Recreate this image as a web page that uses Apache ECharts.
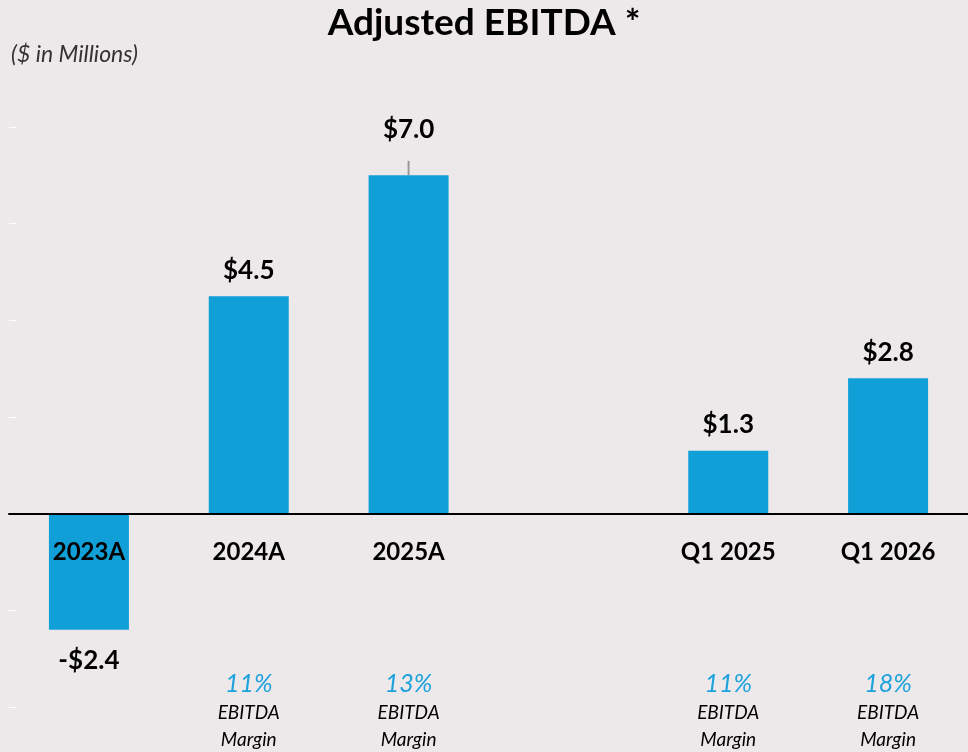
<!DOCTYPE html>
<html>
<head>
<meta charset="utf-8">
<script src="https://cdn.jsdelivr.net/npm/echarts@6/dist/echarts.min.js"></script>
<style>
  html, body { margin: 0; padding: 0; background: #ede9ea; }
  #chart { width: 968px; height: 752px; }
</style>
</head>
<body>
<div id="chart"></div>
<script>
// categories, blank slot separates annual from quarterly
const categories = ['2023A', '2024A', '2025A', '', 'Q1 2025', 'Q1 2026'];
const ebitda = [-2.4, 4.5, 7.0, null, 1.3, 2.8];
const margins = ['', '11%', '13%', '', '11%', '18%'];
// small grey whisker above the 2025A bar
const whiskerTop = [null, null, 7.3, null, null, null];

const chart = echarts.init(document.getElementById('chart'));

const option = {
  backgroundColor: '#ede9ea',
  textStyle: { fontFamily: 'Lato' },
  title: [{
    text: 'Adjusted EBITDA *',
    left: 'center',
    top: 0,
    textStyle: { fontSize: 37, fontWeight: 'bold', color: '#000', fontFamily: 'Lato' }
  }, {
    text: '($ in Millions)',
    left: 6,
    top: 38,
    textStyle: { fontSize: 23, fontStyle: 'italic', fontWeight: 'normal', color: '#333', fontFamily: 'Lato' }
  }],
  grid: { left: 9, right: 0, top: 127, bottom: 45, containLabel: false },
  xAxis: [{
    type: 'category',
    data: categories,
    position: 'bottom',
    offset: -193,
    z: 10,
    axisLine: { onZero: false, lineStyle: { color: '#000', width: 2 } },
    axisTick: { show: false },
    axisLabel: {
      color: '#000', fontSize: 24, fontWeight: 'bold', margin: 26, interval: 0
    }
  }, {
    type: 'category',
    data: margins,
    position: 'bottom',
    axisLine: { show: false },
    axisTick: { show: false },
    axisLabel: {
      interval: 0,
      margin: -38,
      formatter: function (v) {
        return v ? '{p|' + v + '}\n{m|EBITDA}\n{m|Margin}' : '';
      },
      rich: {
        p: { color: '#1ea2dc', fontSize: 25, fontStyle: 'italic', lineHeight: 30, fontFamily: 'Lato' },
        m: { color: '#000', fontSize: 19, fontStyle: 'italic', lineHeight: 27, fontFamily: 'Lato' }
      }
    }
  }],
  yAxis: {
    type: 'value',
    min: -4,
    max: 8,
    interval: 2,
    axisLine: { show: false },
    axisLabel: { show: false },
    splitLine: { show: false },
    axisTick: { show: true, length: 7, inside: true, lineStyle: { color: '#ffffff' } }
  },
  series: [{
    type: 'bar',
    // positive labels above bars (and above any whisker), negative below
    data: ebitda.map(function (v, i) {
      if (v == null) return null;
      return {
        value: v,
        label: {
          position: v < 0 ? 'bottom' : 'top',
          distance: v < 0 ? 18 : (whiskerTop[i] != null ? 33 : 13)
        }
      };
    }),
    barWidth: 80,
    itemStyle: { color: '#109fd7' },
    label: {
      show: true,
      color: '#000',
      fontSize: 26,
      fontWeight: 'bold',
      fontFamily: 'Lato',
      formatter: function (p) {
        const v = p.value;
        return (v < 0 ? '-$' : '$') + Math.abs(v).toFixed(1);
      }
    },
    z: 2
  }, {
    type: 'custom',
    data: whiskerTop.map(function (w, i) { return [i, ebitda[i], w]; }),
    renderItem: function (params, api) {
      if (api.value(2) == null || isNaN(api.value(2))) return null;
      const a = api.coord([api.value(0), api.value(1)]);
      const b = api.coord([api.value(0), api.value(2)]);
      return {
        type: 'line',
        shape: { x1: a[0], y1: a[1], x2: b[0], y2: b[1] },
        style: { stroke: '#9a9a9a', lineWidth: 2 }
      };
    },
    z: 1
  }]
};

chart.setOption(option);
</script>
</body>
</html>
